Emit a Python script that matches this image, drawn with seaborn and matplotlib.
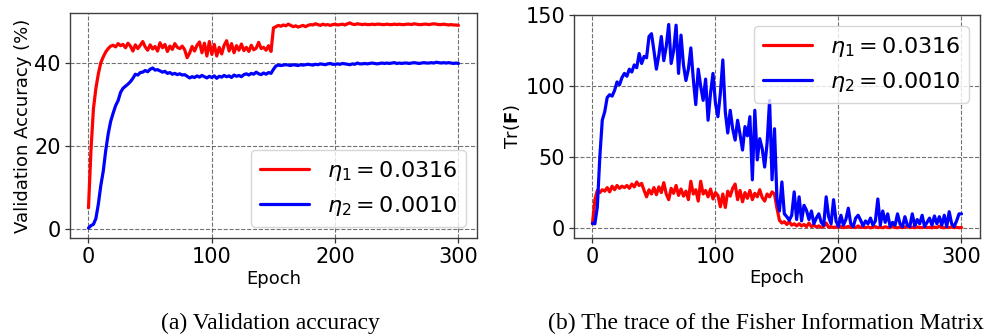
import numpy as np
import pandas as pd
import matplotlib
matplotlib.use("Agg")
import matplotlib.pyplot as plt
import seaborn as sns

# ---------------- data (every 2 epochs) ----------------
epochs = list(range(0, 301, 2))

acc_eta1 = [
    5.1, 19.0, 29.0, 34.0, 37.5, 40.2, 41.6, 42.8, 43.6, 44.2,
    44.4, 44.0, 44.8, 44.3, 44.6, 43.8, 44.9, 44.2, 43.0, 44.5,
    43.6, 44.4, 45.3, 44.0, 43.2, 44.5, 43.5, 44.1, 43.0, 45.0,
    43.8, 44.6, 42.9, 44.2, 43.4, 44.8, 43.9, 43.6, 44.2, 43.3,
    41.4, 42.5, 44.1, 43.0, 44.4, 45.2, 42.6, 44.9, 41.8, 45.3,
    42.2, 44.6, 41.8, 43.9, 42.3, 44.4, 45.5, 43.0, 44.8, 42.6,
    44.3, 43.2, 44.7, 43.1, 43.9, 42.9, 44.4, 43.3, 43.7, 45.1,
    43.6, 43.9, 43.2, 44.3, 42.9, 48.6, 48.9, 49.2, 49.0, 49.3,
    49.1, 49.5, 49.2, 48.9, 49.1, 48.8, 49.0, 49.2, 48.9, 49.2,
    49.4, 49.3, 49.6, 49.4, 49.2, 49.5, 49.3, 49.4, 49.2, 49.4,
    49.5, 49.3, 49.4, 49.5, 49.3, 49.6, 49.8, 49.5, 49.4, 49.6,
    49.5, 49.4, 49.5, 49.4, 49.4, 49.5, 49.4, 49.5, 49.5, 49.4,
    49.4, 49.5, 49.4, 49.4, 49.5, 49.4, 49.5, 49.4, 49.4, 49.5,
    49.5, 49.4, 49.6, 49.5, 49.4, 49.4, 49.5, 49.5, 49.4, 49.5,
    49.6, 49.5, 49.4, 49.4, 49.5, 49.4, 49.3, 49.4, 49.3, 49.3,
    49.2,
]

acc_eta2 = [
    0.2, 0.8, 1.1, 2.5, 6.0, 10.5, 14.0, 19.0, 23.0, 26.0,
    28.0, 29.8, 31.0, 33.0, 34.0, 34.5, 35.0, 35.6, 36.4, 37.4,
    37.2, 37.8, 37.9, 38.3, 38.0, 38.6, 38.9, 38.4, 38.5, 38.2,
    37.9, 38.1, 37.6, 37.8, 37.4, 37.6, 37.3, 37.5, 37.2, 37.3,
    36.9, 36.5, 36.8, 36.6, 37.0, 36.7, 37.1, 36.8, 36.5, 36.9,
    36.6, 37.0, 36.4, 36.9, 36.7, 37.1, 36.8, 37.0, 36.6, 37.2,
    36.9, 37.1, 36.8, 37.3, 37.5, 37.2, 37.6, 37.4, 37.9, 37.5,
    37.3, 37.7, 37.4, 37.8, 37.6, 38.6, 39.4, 39.6, 39.5, 39.6,
    39.7, 39.6, 39.5, 39.7, 39.6, 39.5, 39.7, 39.6, 39.7, 39.8,
    39.7, 39.6, 39.8, 39.7, 39.9, 39.8, 39.7, 39.9, 40.0, 39.8,
    39.8, 39.9, 39.8, 40.0, 39.9, 39.8, 39.7, 39.9, 39.8, 40.1,
    39.9, 39.9, 40.0, 39.9, 40.0, 40.1, 40.0, 39.9, 40.0, 40.1,
    40.0, 40.1, 40.0, 40.1, 40.2, 40.0, 40.1, 40.0, 40.1, 40.1,
    40.0, 40.1, 40.2, 40.1, 40.0, 40.1, 40.2, 40.1, 40.1, 40.2,
    40.1, 40.3, 40.2, 40.1, 40.2, 40.1, 40.2, 40.1, 40.0, 40.1,
    40.0,
]

trf_eta1 = [
    3.0, 20.0, 26.5, 25.0, 27.0, 26.0, 28.5, 25.5, 29.5, 27.0,
    30.0, 28.0, 29.5, 28.5, 30.0, 28.0, 31.0, 29.0, 32.5, 30.0,
    31.5, 26.5, 22.0, 27.0, 24.0, 28.5, 23.5, 29.0, 25.0, 32.0,
    24.0, 20.0, 28.0, 24.5, 30.0, 23.0, 27.5, 22.5, 26.0, 20.0,
    33.0, 24.0, 27.0, 19.0, 33.0, 24.0, 26.5, 22.0, 27.5, 20.5,
    25.0, 23.0, 15.0, 24.0, 14.5, 26.0, 22.5, 28.0, 31.0, 20.0,
    26.5, 18.5, 25.0, 21.0, 26.5, 20.0, 24.5, 22.0, 27.0, 21.5,
    19.0, 24.0, 22.0, 25.5, 24.0, 14.0, 5.5, 3.5, 4.5, 2.5,
    4.5, 2.0, 3.0, 1.5, 3.0, 1.5, 2.5, 1.0, 3.5, 1.0,
    2.0, 0.8, 1.5, 0.5, 1.2, 3.5, 0.5, 1.0, 0.3, 0.8,
    0.5, 1.0, 0.3, 0.6, 1.2, 0.4, 0.8, 0.3, 1.5, 0.4,
    0.6, 0.3, 0.8, 0.2, 0.5, 1.0, 0.3, 0.6, 0.2, 0.9,
    0.4, 0.3, 1.2, 0.4, 0.2, 0.7, 0.3, 0.5, 1.5, 0.3,
    0.6, 0.2, 0.8, 0.4, 0.3, 1.0, 0.3, 0.5, 0.2, 0.7,
    0.3, 1.3, 0.4, 0.2, 0.6, 0.3, 0.9, 0.3, 0.5, 0.2,
    0.4,
]

trf_eta2 = [
    3.3, 3.0, 15.0, 50.0, 76.0, 82.0, 92.0, 94.0, 93.0, 97.0,
    103.0, 101.0, 106.0, 109.0, 107.0, 112.0, 110.0, 115.0, 113.0, 123.0,
    116.0, 121.0, 120.0, 135.0, 137.0, 125.0, 112.0, 122.0, 135.0, 118.0,
    128.0, 143.5, 116.0, 125.0, 143.0, 109.0, 136.0, 115.0, 104.0, 112.0,
    127.0, 105.0, 87.0, 112.0, 100.0, 90.0, 105.0, 76.0, 95.0, 109.0,
    88.0, 78.5, 95.0, 118.5, 82.0, 67.0, 83.0, 70.0, 62.0, 76.0,
    66.0, 55.0, 71.5, 65.0, 78.5, 34.0, 83.0, 48.0, 63.0, 56.0,
    43.0, 60.0, 90.0, 34.0, 70.0, 20.0, 12.0, 32.5, 10.0, 8.0,
    5.5, 9.0, 25.5, 6.0, 22.0, 5.0, 16.0, 12.5, 6.0, 12.0,
    3.0, 7.0, 10.0, 4.0, 2.0, 22.0, 8.0, 3.0, 20.0, 5.0,
    1.0, 9.0, 2.0, 6.0, 14.0, 3.0, 1.0, 7.0, 9.0, 5.5,
    1.5, 5.0, 3.0, 7.0, 2.0, 5.0, 20.5, 2.0, 12.0, 4.0,
    10.0, 1.0, 4.0, 2.0, 10.0, 3.0, 0.8, 8.0, 2.0, 1.0,
    10.0, 1.5, 6.0, 3.0, 9.0, 1.0, 4.0, 7.0, 2.0, 8.5,
    3.0, 8.0, 2.0, 9.0, 1.0, 11.5, 3.0, 1.0, 5.0, 10.0,
    10.0,
]

label_eta1 = r'$\eta_1 = 0.0316$'
label_eta2 = r'$\eta_2 = 0.0010$'
caption_a = "(a) Validation accuracy"
caption_b = "(b) The trace of the Fisher Information Matrix"

# ---------------- style ----------------
sns.set_theme(style="ticks")
plt.rcParams['font.family'] = ['DejaVu Sans']
plt.rcParams['mathtext.fontset'] = 'dejavusans'
plt.rcParams['axes.edgecolor'] = '0.2'
plt.rcParams['axes.linewidth'] = 1.0
plt.rcParams['text.color'] = 'black'
plt.rcParams['axes.labelcolor'] = 'black'
plt.rcParams['xtick.labelcolor'] = 'black'
plt.rcParams['ytick.labelcolor'] = 'black'

fig = plt.figure(figsize=(9.97, 3.36), dpi=100)
ax1 = fig.add_axes([0.0702, 0.2917, 0.4082, 0.6696])
ax2 = fig.add_axes([0.5757, 0.2926, 0.4072, 0.6637])

df_acc = pd.DataFrame({"epoch": epochs, "e1": acc_eta1, "e2": acc_eta2})
df_trf = pd.DataFrame({"epoch": epochs, "e1": trf_eta1, "e2": trf_eta2})

lw = 2.3
for ax, df in ((ax1, df_acc), (ax2, df_trf)):
    sns.lineplot(data=df, x="epoch", y="e1", color="red", lw=lw,
                 label=label_eta1, ax=ax)
    sns.lineplot(data=df, x="epoch", y="e2", color="blue", lw=lw,
                 label=label_eta2, ax=ax)
    ax.grid(True, linestyle="--", color="0.3", linewidth=0.8, alpha=0.8)
    ax.set_axisbelow(True)
    ax.set_xlim(-15, 315)
    ax.set_xticks([0, 100, 200, 300])
    ax.tick_params(axis="both", labelsize=15, length=3.5, width=0.9,
                   color="0.2", pad=3)
    ax.set_xlabel("Epoch", fontsize=13, labelpad=2)
    for s in ax.spines.values():
        s.set_visible(True)
        s.set_color("0.25")

ax1.set_ylim(-2.2, 52.2)
ax1.set_yticks([0, 20, 40])
ax1.set_ylabel("Validation Accuracy (%)", fontsize=13, labelpad=2)
ax1.legend(loc="lower right", fontsize=16, frameon=True, fancybox=True,
           framealpha=0.8, edgecolor="0.8", handlelength=2.2)

ax2.set_ylim(-6.8, 150.4)
ax2.set_yticks([0, 50, 100, 150])
ax2.set_ylabel(r'Tr($\mathbf{F}$)', fontsize=13, labelpad=2)
ax2.legend(loc="upper right", fontsize=16, frameon=True, fancybox=True,
           framealpha=0.8, edgecolor="0.8", handlelength=2.2)

fig.text(0.271, 0.038, caption_a, ha="center", va="center",
         family=["Liberation Serif", "DejaVu Serif"], fontsize=17)
fig.text(0.768, 0.038, caption_b, ha="center", va="center",
         family=["Liberation Serif", "DejaVu Serif"], fontsize=17)

fig.savefig("out.png", dpi=100)
